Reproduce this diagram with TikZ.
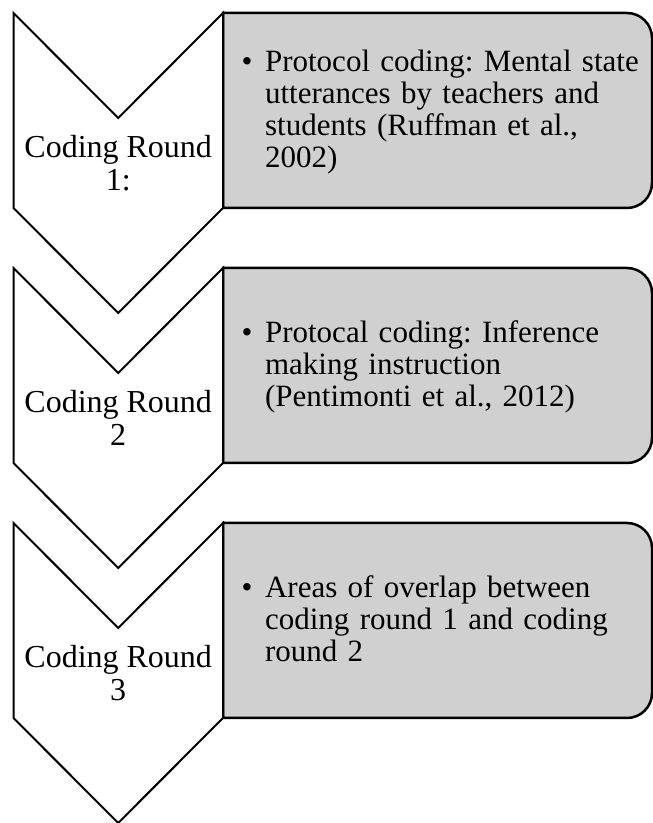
\documentclass[tikz,border=0pt]{standalone}
\usepackage{fontspec}
\setmainfont{Liberation Serif}
\definecolor{boxgray}{RGB}{208,208,208}

\begin{document}
\frenchspacing
\begin{tikzpicture}[x=1pt,y=1pt,
    chevron/.style={draw,line width=2pt,fill=white},
    panel/.style={draw,line width=2.5pt,fill=boxgray},
    roundlabel/.style={align=center,inner sep=0pt,font=\fontsize{32}{33}\selectfont},
    notetext/.style={anchor=west,text width=420pt,align=left,inner sep=0pt,font=\fontsize{31}{32}\selectfont}]
    \useasboundingbox (0,0) rectangle (653,823);

    % Grey panels with the coding notes
    \draw[panel] (223,810) -- (627,810) arc[start angle=90,end angle=0,radius=25] -- (652,640) arc[start angle=0,end angle=-90,radius=25] -- (223,615) -- cycle;
    \draw[panel] (223,555) -- (627,555) arc[start angle=90,end angle=0,radius=25] -- (652,385) arc[start angle=0,end angle=-90,radius=25] -- (223,360) -- cycle;
    \draw[panel] (223,300) -- (627,300) arc[start angle=90,end angle=0,radius=25] -- (652,130) arc[start angle=0,end angle=-90,radius=25] -- (223,105) -- cycle;

    % Chevrons for the three rounds
    \draw[chevron] (13.5,810) -- (118.2,705) -- (223,810) -- (223,615) -- (118.2,510) -- (13.5,615) -- cycle;
    \draw[chevron] (13.5,555) -- (118.2,450) -- (223,555) -- (223,360) -- (118.2,255) -- (13.5,360) -- cycle;
    \draw[chevron] (13.5,300) -- (118.2,195) -- (223,300) -- (223,105) -- (118.2,0) -- (13.5,105) -- cycle;

    % Labels
    \node[roundlabel] (round1) at (118.2,656) {\strut Coding Round\\1:\strut};
    \node[roundlabel] (round2) at (118.2,401) {\strut Coding Round\\2\strut};
    \node[roundlabel] (round3) at (118.2,146) {\strut Coding Round\\3\strut};

    \node[notetext] (note1) at (241.4,709.4) {\leftskip=23.5pt\noindent\llap{\makebox[23.5pt][l]{\textbullet}}\strut Protocol coding: Mental state\\utterances by teachers and\\students (Ruffman et al.,\\2002)\strut\par};
    \node[notetext] (note2) at (241.4,454.4) {\leftskip=23.5pt\noindent\llap{\makebox[23.5pt][l]{\textbullet}}\strut Protocal coding: Inference\\making instruction\\(Pentimonti et al., 2012)\strut\par};
    \node[notetext] (note3) at (241.4,199.4) {\leftskip=23.5pt\noindent\llap{\makebox[23.5pt][l]{\textbullet}}\strut Areas of overlap between\\coding round 1 and coding\\round 2\strut\par};
\end{tikzpicture}
\end{document}
